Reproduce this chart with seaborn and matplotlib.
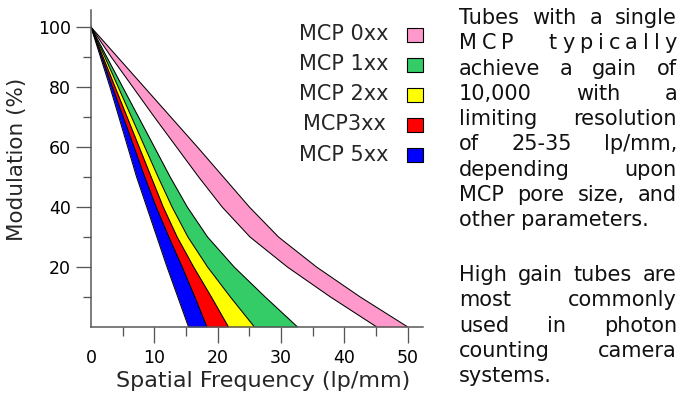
import matplotlib
matplotlib.use("Agg")
import matplotlib.pyplot as plt
from matplotlib.patches import Rectangle
import pandas as pd
import seaborn as sns

W_PX, H_PX = 680, 397
PT = 72 / 100  # points per pixel at dpi=100

MODULATION = [100, 90, 80, 70, 60, 50, 40, 30, 20, 10, 0]

# Spatial frequency (lp/mm) of each band edge at those modulation levels
FREQ_5XX_LO = [0, 1.5, 3.0, 4.4, 5.8, 7.2, 8.8, 10.4, 12.0, 13.7, 15.4]
FREQ_5XX_3XX = [0, 1.7, 3.4, 5.1, 6.8, 8.5, 10.3, 12.3, 14.4, 16.4, 18.3]
FREQ_3XX_2XX = [0, 1.9, 3.8, 5.7, 7.6, 9.5, 11.4, 13.6, 16.2, 19.0, 21.7]
FREQ_2XX_1XX = [0, 2.2, 4.3, 6.4, 8.5, 10.6, 12.8, 15.3, 18.4, 22.0, 25.8]
FREQ_1XX_HI = [0, 2.5, 5.0, 7.5, 10.0, 12.5, 15.2, 18.4, 22.6, 27.5, 32.6]
FREQ_0XX_LO = [0, 3.2, 6.6, 10.0, 13.5, 17.0, 20.7, 25.1, 31.0, 37.8, 45.1]
FREQ_0XX_HI = [0, 4.2, 8.4, 12.6, 16.8, 20.9, 25.0, 29.6, 35.6, 42.5, 50.0]

BAND_LABELS = ["MCP 0xx", "MCP 1xx", "MCP 2xx", "MCP3xx", "MCP 5xx"]
BAND_COLORS = ["#ff99cc", "#33cc66", "#ffff00", "#ff0000", "#0000ff"]

X_TICKS = [0, 10, 20, 30, 40, 50]
X_MINOR = [5, 15, 25, 35, 45]
Y_TICKS = [20, 40, 60, 80, 100]
Y_MINOR = [10, 30, 50, 70, 90]

PARA_1 = [
    "Tubes with a single",
    "MCP typically",
    "achieve a gain of",
    "10,000 with a",
    "limiting resolution",
    "of 25-35 lp/mm,",
    "depending upon",
    "MCP pore size, and",
    "other parameters.",
]
PARA_2 = [
    "High gain tubes are",
    "most commonly",
    "used in photon",
    "counting camera",
    "systems.",
]
SPREAD_LINES = {"MCP typically"}

sns.set_style("ticks")
plt.rcParams["font.family"] = ["DejaVu Sans"]


def fx(x):
    return x / W_PX


def fy(y):
    return 1 - y / H_PX


def draw_justified(fig, renderer, line, y_base, x0, x1, justify=True):
    """Place one line of text, stretched to fill x0..x1 (pixels)."""
    kw = dict(fontsize=15, va="baseline", ha="left", color="#111111")
    if not justify:
        fig.text(fx(x0), fy(y_base), line, **kw)
        return
    spread = line in SPREAD_LINES
    words = line.split()
    units = [list(w) if spread else [w] for w in words]
    texts = [[fig.text(0, fy(y_base), u, **kw) for u in word] for word in units]
    widths = [[t.get_window_extent(renderer).width for t in word] for word in texts]
    total = sum(sum(w) for w in widths)
    n_inner = sum(len(w) - 1 for w in widths)
    word_weight = 7.0 if spread else 1.0
    unit = ((x1 - x0) - total) / (n_inner + word_weight * (len(words) - 1))
    x = x0
    for word, ws in zip(texts, widths):
        for ci, (t, w) in enumerate(zip(word, ws)):
            t.set_x(fx(x))
            x += w + (unit if ci < len(word) - 1 else 0)
        x += unit * word_weight


def main() -> None:
    fig = plt.figure(figsize=(W_PX / 100, H_PX / 100), dpi=100)
    ax = fig.add_axes([fx(91), 70 / H_PX, 332 / W_PX, 317 / H_PX])

    bands = [
        (FREQ_0XX_LO, FREQ_0XX_HI),
        (FREQ_2XX_1XX, FREQ_1XX_HI),
        (FREQ_3XX_2XX, FREQ_2XX_1XX),
        (FREQ_5XX_3XX, FREQ_3XX_2XX),
        (FREQ_5XX_LO, FREQ_5XX_3XX),
    ]
    for (left, right), color in zip(bands, BAND_COLORS):
        ax.fill_betweenx(MODULATION, left, right, color=color, lw=0)

    edges = {
        "5xx_lo": FREQ_5XX_LO, "5xx_3xx": FREQ_5XX_3XX, "3xx_2xx": FREQ_3XX_2XX,
        "2xx_1xx": FREQ_2XX_1XX, "1xx_hi": FREQ_1XX_HI,
        "0xx_lo": FREQ_0XX_LO, "0xx_hi": FREQ_0XX_HI,
    }
    edge_df = pd.DataFrame([
        {"edge": name, "freq": f, "modulation": m}
        for name, freqs in edges.items()
        for f, m in zip(freqs, MODULATION)
    ])
    sns.lineplot(
        data=edge_df, x="freq", y="modulation", units="edge", estimator=None,
        sort=False, color="black", lw=0.75, ax=ax,
    )

    ax.set_xlim(0, 52.4)
    ax.set_ylim(0, 105.7)
    sns.despine(ax=ax)
    for side in ("left", "bottom"):
        ax.spines[side].set_color("#555555")
        ax.spines[side].set_linewidth(1.5 * PT)

    ax.set_xticks(X_TICKS)
    ax.set_xticks(X_MINOR, minor=True)
    ax.set_yticks(Y_TICKS)
    ax.set_yticks(Y_MINOR, minor=True)
    ax.xaxis.get_major_ticks()[0].tick1line.set_visible(False)
    ax.tick_params(which="both", direction="out", color="#555555", width=1.3 * PT,
                   labelsize=12.5, labelcolor="black")
    ax.tick_params(axis="x", which="major", length=16 * PT, pad=6 * PT)
    ax.tick_params(axis="x", which="minor", length=9 * PT)
    ax.tick_params(axis="y", which="major", length=15 * PT, pad=5 * PT)
    ax.tick_params(axis="y", which="minor", length=8 * PT)

    ax.set_xlabel("Spatial Frequency (lp/mm)", fontsize=16, va="center")
    ax.xaxis.set_label_coords((263 - 91) / 332, (327 - 381) / 317)
    ax.set_ylabel("Modulation (%)", fontsize=15.5, va="center")
    ax.yaxis.set_label_coords((17 - 91) / 332, (327 - 159) / 317)

    # legend: labels on the left, swatches on the right
    for i, (label, color) in enumerate(zip(BAND_LABELS, BAND_COLORS)):
        yc = 34.5 + 30 * i
        fig.text(fx(344), fy(yc), label, fontsize=15, ha="center", va="center")
        fig.add_artist(Rectangle(
            (fx(407), fy(yc + 7)), 16 / W_PX, 14 / H_PX,
            transform=fig.transFigure, fc=color, ec="black", lw=0.8,
        ))

    renderer = fig.canvas.get_renderer()
    for i, line in enumerate(PARA_1):
        draw_justified(fig, renderer, line, 24 + 25.3 * i, 459, 677,
                       justify=i < len(PARA_1) - 1)
    for i, line in enumerate(PARA_2):
        draw_justified(fig, renderer, line, 281 + 25.3 * i, 459, 677,
                       justify=i < len(PARA_2) - 1)

    fig.savefig("out.png", dpi=100)
    plt.close(fig)


if __name__ == "__main__":
    main()
